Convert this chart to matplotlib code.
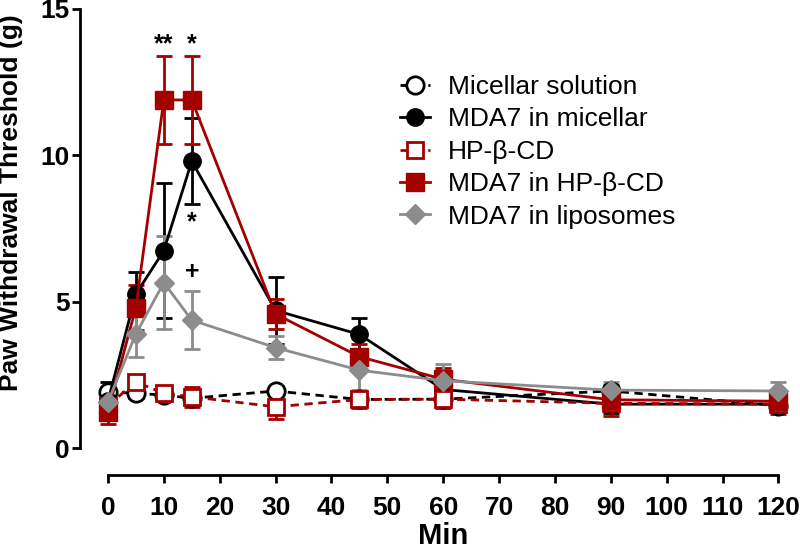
import matplotlib
matplotlib.use("Agg")
import matplotlib.pyplot as plt
from matplotlib.lines import Line2D

plt.rcParams['font.family'] = ['Liberation Sans', 'DejaVu Sans']

times = [0, 5, 10, 15, 30, 45, 60, 90, 120]

micellar_sol = [1.92, 1.87, 1.81, 1.70, 1.95, 1.66, 1.67, 1.95, 1.45]
micellar_sol_err = [0.33, 0.15, 0.15, 0.15, 0.12, 0.15, 0.15, 0.20, 0.15]

mda7_micellar = [1.60, 5.26, 6.74, 9.80, 4.70, 3.88, 2.00, 1.50, 1.50]
mda7_micellar_err = [0.35, 0.76, 2.30, 1.48, 1.15, 0.57, 0.40, 0.30, 0.25]

hpbcd = [1.45, 2.26, 1.87, 1.75, 1.41, 1.66, 1.67, 1.53, 1.50]
hpbcd_err = [0.30, 0.20, 0.20, 0.35, 0.40, 0.30, 0.30, 0.45, 0.35]

mda7_hpbcd = [1.24, 4.80, 11.89, 11.89, 4.58, 3.12, 2.35, 1.65, 1.60]
mda7_hpbcd_err = [0.42, 0.77, 1.50, 1.50, 0.52, 0.45, 0.40, 0.40, 0.35]

mda7_lipo = [1.58, 3.90, 5.65, 4.37, 3.43, 2.66, 2.30, 1.98, 1.95]
mda7_lipo_err = [0.30, 0.78, 1.60, 1.00, 0.40, 0.69, 0.57, 0.29, 0.32]

labels = ["Micellar solution", "MDA7 in micellar", "HP-\u03b2-CD",
          "MDA7 in HP-\u03b2-CD", "MDA7 in liposomes"]

annotations = [("**", 10, 13.8), ("*", 15, 13.8), ("*", 15, 7.7), ("+", 15, 6.0)]

RED = "#a30000"
GRAY = "#8c8c8c"
BLACK = "#000000"

fig = plt.figure(figsize=(8, 5.51), dpi=100)
ax = fig.add_axes([0.100, 0.1379, 0.894, 0.846])

common = dict(elinewidth=2.0, capsize=6, capthick=2.0, linewidth=2.0, clip_on=False)

series = [
    (micellar_sol, micellar_sol_err, dict(color=BLACK, marker='o', markersize=12.5,
      markerfacecolor='white', markeredgewidth=2.0, linestyle=(0, (3, 2)))),
    (mda7_micellar, mda7_micellar_err, dict(color=BLACK, marker='o', markersize=12.5,
      markerfacecolor=BLACK, linestyle='-')),
    (hpbcd, hpbcd_err, dict(color=RED, marker='s', markersize=12,
      markerfacecolor='white', markeredgewidth=2.0, linestyle=(0, (3, 2)))),
    (mda7_hpbcd, mda7_hpbcd_err, dict(color=RED, marker='s', markersize=12.5,
      markerfacecolor=RED, linestyle='-')),
    (mda7_lipo, mda7_lipo_err, dict(color=GRAY, marker='D', markersize=10,
      markerfacecolor=GRAY, linestyle='-')),
]

handles = []
for (vals, errs, st), lab in zip(series, labels):
    ax.errorbar(times, vals, yerr=errs, ecolor=st['color'], **common, **st)
    handles.append(Line2D([], [], linewidth=2.0, **st))

for txt, x, y in annotations:
    ax.text(x, y, txt, ha='center', va='center', fontsize=18, fontweight='bold')

ax.set_xlim(-5, 123)
ax.set_ylim(-0.92, 15)
ax.spines['top'].set_visible(False)
ax.spines['right'].set_visible(False)
ax.spines['left'].set_bounds(0, 15)
ax.spines['bottom'].set_bounds(0, 120)
for s in ('left', 'bottom'):
    ax.spines[s].set_linewidth(2.0)
ax.set_yticks([0, 5, 10, 15])
ax.set_xticks(list(range(0, 121, 10)))
ax.tick_params(width=2.0, length=6, labelsize=19)
ax.tick_params(axis='y', pad=1.5)
ax.tick_params(axis='x', pad=9)
for lbl in ax.get_xticklabels() + ax.get_yticklabels():
    lbl.set_fontweight('bold')
ax.set_ylabel("Paw Withdrawal Threshold (g)", fontsize=19, fontweight='bold')
ax.set_xlabel("Min", fontsize=21, fontweight='bold')
ax.yaxis.set_label_coords(-0.080, 0.585)
ax.xaxis.set_label_coords((60 + 5) / 128, -0.160)
ax.xaxis.label.set_verticalalignment('bottom')

leg = ax.legend(handles, labels, loc='upper left', bbox_to_anchor=(0.433, 0.881),
                frameon=False, fontsize=19, handlelength=1.14, handletextpad=0.68,
                labelspacing=0.32, borderaxespad=0)

fig.savefig("out.png", dpi=100)
